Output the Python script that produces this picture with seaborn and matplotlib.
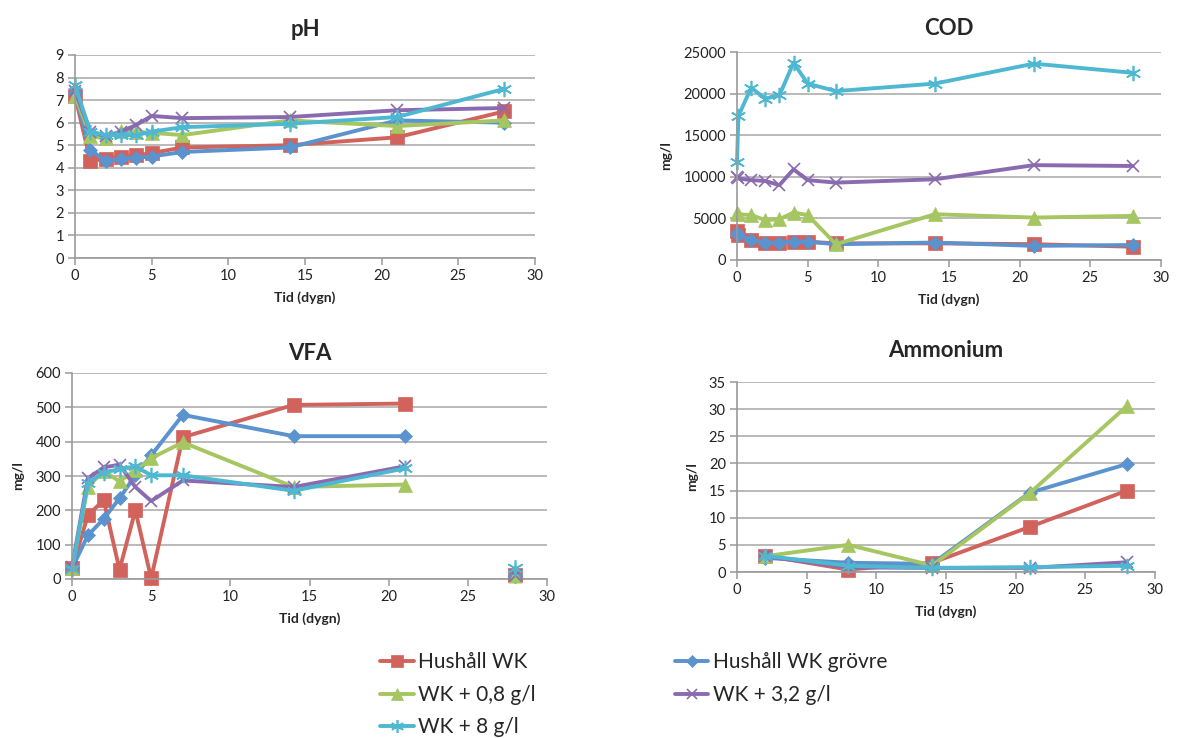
import numpy as np
import pandas as pd
import matplotlib
matplotlib.use("Agg")
import matplotlib.pyplot as plt
import seaborn as sns
from matplotlib.lines import Line2D

sns.set_theme(style="white")
plt.rcParams['font.family'] = ['Lato', 'DejaVu Sans']

series = ["Hushåll WK", "Hushåll WK grövre", "WK + 0,8 g/l", "WK + 3,2 g/l", "WK + 8 g/l"]
colors = ["#D2625C", "#5A93CD", "#A5C661", "#8B6BB0", "#4EB8D2"]
markers = ["s", "D", "^", "x", (6, 2, 0)]
msizes = [9.5, 7.5, 9.5, 9, 11]

# pH
ph_t = [0, 1, 2, 3, 4, 5, 7, 14, 21, 28]
ph_red = [7.2, 4.3, 4.4, 4.5, 4.55, 4.65, 4.9, 5.0, 5.35, 6.5]
ph_blue = [7.3, 4.8, 4.3, 4.4, 4.45, 4.5, 4.7, 4.9, 6.1, 6.0]
ph_green = [7.2, 5.4, 5.3, 5.65, 5.6, 5.55, 5.45, 6.1, 5.85, 6.1]
ph_purple = [7.4, 5.6, 5.4, 5.6, 5.9, 6.3, 6.2, 6.25, 6.55, 6.65]
ph_cyan = [7.65, 5.6, 5.45, 5.45, 5.45, 5.6, 5.8, 5.95, 6.25, 7.5]

# COD
cod_t = [0, 0.1, 1, 2, 3, 4, 5, 7, 14, 21, 28]
cod_red = [3500, 3000, 2400, 2100, 2100, 2200, 2200, 2000, 2000, 1900, 1600]
cod_blue = [3200, 3000, 2400, 2100, 2100, 2200, 2200, 1900, 2100, 1700, 1800]
cod_green = [5600, 5500, 5400, 4800, 4900, 5700, 5400, 1900, 5500, 5100, 5300]
cod_purple = [10000, 9800, 9600, 9500, 9000, 10900, 9600, 9300, 9700, 11400, 11300]
cod_cyan = [11800, 17300, 20700, 19400, 19800, 23700, 21200, 20300, 21200, 23600, 22500]

# VFA (last point at day 28 not connected)
vfa_t = [0, 1, 2, 3, 4, 5, 7, 14, 21, 28]
vfa_red = [31, 185, 230, 27, 200, 2, 413, 507, 511, 12]
vfa_blue = [31, 127, 175, 235, 302, 360, 478, 416, 416, 9]
vfa_green = [31, 268, 315, 284, 317, 352, 398, 268, 275, 10]
vfa_purple = [35, 293, 325, 333, 268, 227, 287, 268, 328, 12]
vfa_cyan = [30, 280, 310, 320, 328, 302, 302, 257, 322, 31]
vfa_connected = [True, True, True, True, True, True, True, True, True, False]

# Ammonium
am_t = [2, 8, 14, 21, 28]
am_red = [3.0, 0.45, 1.7, 8.3, 15.0]
am_blue = [2.6, 1.7, 1.5, 14.6, 19.9]
am_green = [2.9, 5.0, 1.2, 14.5, 30.6]
am_purple = [2.9, 0.85, 0.75, 0.75, 1.8]
am_cyan = [3.0, 1.15, 0.75, 0.9, 1.15]

W, H = 1187, 738
fig = plt.figure(figsize=(W / 100, H / 100), dpi=100)

def px_axes(l, t, r, b):
    return fig.add_axes([l / W, 1 - b / H, (r - l) / W, (b - t) / H])

def style(ax, title, ymax, ystep, ylabel=None, title_pad=9):
    ax.set_xlim(0, 30)
    ax.set_ylim(0, ymax)
    ax.set_xticks(np.arange(0, 31, 5))
    ax.set_yticks(np.arange(0, ymax + ystep / 2, ystep))
    ax.grid(axis="y", color="#B4B4B4", lw=1.3)
    ax.grid(axis="x", visible=False)
    ax.set_axisbelow(True)
    for s in ["top", "right"]:
        ax.spines[s].set_visible(False)
    for s in ["left", "bottom"]:
        ax.spines[s].set_color("#9A9A9A")
        ax.spines[s].set_linewidth(1.2)
    ax.tick_params(axis="both", which="major", direction="out", length=5,
                   width=1.1, color="#9A9A9A", labelsize=10.5, labelcolor="#222222",
                   bottom=True, left=True, pad=3)
    ax.set_title(title, fontsize=16, fontweight="bold", pad=title_pad)
    ax.set_xlabel("Tid (dygn)", fontsize=10, fontweight="bold", labelpad=6)
    if ylabel:
        ax.set_ylabel(ylabel, fontsize=10, fontweight="bold", labelpad=8)
    else:
        ax.set_ylabel("")

def draw(ax, t, ys, connected=None):
    for y, c, m, ms in zip(ys, colors, markers, msizes):
        t_arr = np.asarray(t, float)
        y_arr = np.asarray(y, float)
        if connected is None:
            mask = np.ones(len(t_arr), bool)
        else:
            mask = np.asarray(connected)
        df = pd.DataFrame({"t": t_arr[mask], "v": y_arr[mask]})
        thin = (m == "x") or isinstance(m, tuple)
        sns.lineplot(data=df, x="t", y="v", ax=ax, color=c, lw=2.8,
                     marker=m, markersize=ms, markeredgecolor=c,
                     markeredgewidth=1.2 if thin else 0.5, estimator=None, sort=False)
        if connected is not None and (~mask).any():
            df2 = pd.DataFrame({"t": t_arr[~mask], "v": y_arr[~mask]})
            sns.scatterplot(data=df2, x="t", y="v", ax=ax, color=c, marker=m,
                            s=ms ** 2, edgecolor=c,
                            linewidth=1.2 if thin else 0.5, zorder=3)

ax1 = px_axes(75, 55, 535, 258)
draw(ax1, ph_t, [ph_red, ph_blue, ph_green, ph_purple, ph_cyan])
style(ax1, "pH", 9, 1, title_pad=14)

ax2 = px_axes(737, 52, 1161, 260)
draw(ax2, cod_t, [cod_red, cod_blue, cod_green, cod_purple, cod_cyan])
style(ax2, "COD", 25000, 5000, ylabel="mg/l", title_pad=12)

ax3 = px_axes(72, 373, 547, 579)
draw(ax3, vfa_t, [vfa_red, vfa_blue, vfa_green, vfa_purple, vfa_cyan], vfa_connected)
style(ax3, "VFA", 600, 100, ylabel="mg/l", title_pad=9)

ax4 = px_axes(737, 382, 1155, 572)
draw(ax4, am_t, [am_red, am_blue, am_green, am_purple, am_cyan])
style(ax4, "Ammonium", 35, 5, ylabel="mg/l", title_pad=18)

for ax in (ax1, ax2, ax3, ax4):
    for ln in ax.lines:
        ln.set_clip_on(False)
    for coll in ax.collections:
        coll.set_clip_on(False)

handles = []
for c, m, ms in zip(colors, markers, msizes):
    thin = (m == "x") or isinstance(m, tuple)
    handles.append(Line2D([0], [0], color=c, lw=2.8, marker=m, markersize=ms * 0.85,
                          markeredgecolor=c, markeredgewidth=1.2 if thin else 0.5))
# row-wise legend order: matplotlib fills columns first
order = [0, 2, 4, 1, 3]
leg = fig.legend([handles[i] for i in order], [series[i] for i in order],
                 loc="upper left", bbox_to_anchor=(372 / W, 1 - 644 / H),
                 ncol=2, frameon=False, fontsize=15, handlelength=1.6, handletextpad=0.2,
                 columnspacing=6.7, labelspacing=0.6, borderaxespad=0)

fig.savefig("out.png", dpi=100)
